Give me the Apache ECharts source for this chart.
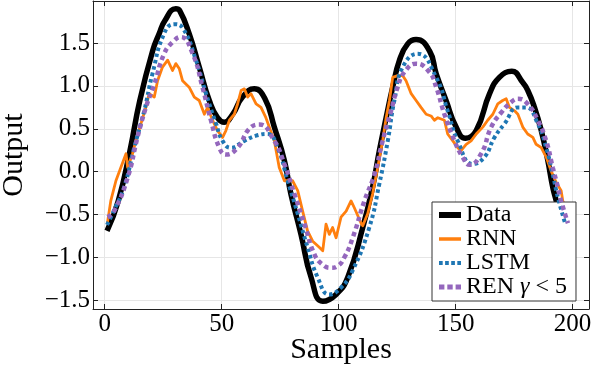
<!DOCTYPE html>
<html><head><meta charset="utf-8">
<script src="https://cdn.jsdelivr.net/npm/echarts@6/dist/echarts.min.js"></script>
<style>html,body{margin:0;padding:0;background:#fff}#c{width:592px;height:368px}</style>
</head><body><div id="c"></div>
<script>
// ---- data ----
const seriesNames = ['Data', 'RNN', 'LSTM', 'REN γ < 5'];
const xTicks = [0, 50, 100, 150, 200];
const yTicks = [-1.5, -1.0, -0.5, 0.0, 0.5, 1.0, 1.5];

const dataX = [1, 5.8, 10.8, 15, 20.5, 23.3, 25.7, 30.4, 32, 36.1, 40.4, 44.7, 48.2, 51.1, 54.7, 58.9, 63.9, 68.5, 72.5, 76.8, 79.6, 83.9, 88.2, 93.2, 98.9, 103.9, 110.3, 114.5, 117.4, 120.3, 123.1, 126, 129.5, 133.1, 138.8, 141.7, 145.9, 150.2, 154.2, 158.8, 164.5, 168.7, 174, 178.7, 180.8, 183.7, 186.6, 189.4, 191.5, 193, 195.5, 198];
const dataY = [-0.69, -0.34, 0.245, 0.83, 1.41, 1.61, 1.76, 1.90, 1.88, 1.61, 1.22, 0.83, 0.63, 0.576, 0.67, 0.87, 0.966, 0.85, 0.52, 0.13, -0.26, -0.73, -1.23, -1.51, -1.43, -1.23, -0.65, -0.18, 0.245, 0.63, 0.985, 1.30, 1.49, 1.54, 1.41, 1.14, 0.83, 0.52, 0.39, 0.48, 0.91, 1.10, 1.17, 1.04, 0.95, 0.75, 0.48, 0.13, -0.18, -0.34, -0.62, -0.85];

const rnnX = [1.2, 2.6, 4.8, 6.9, 9.1, 9.8, 11.9, 13.3, 15.5, 17.6, 19, 21.2, 22.6, 24.7, 26.9, 29, 30.4, 31.9, 33.3, 36.1, 38.3, 40.4, 42.6, 44, 46.1, 48.2, 50.4, 51.8, 53.3, 55.4, 56.8, 58.3, 59.7, 61.1, 62.5, 64.7, 66.8, 68.9, 72.5, 74.6, 76.8, 80.3, 82.5, 84.6, 86.7, 88.9, 91.7, 93.2, 94.6, 96, 97.4, 98.9, 101, 103.2, 105.3, 106.7, 109.6, 110.3, 112.4, 114.5, 116.7, 118.8, 120.3, 121.7, 123.1, 125.2, 127.4, 128.8, 131, 133.1, 135.2, 137.4, 139.5, 140.9, 142.4, 145.2, 146.6, 148.8, 150.9, 152.3, 154.5, 156.6, 158.8, 161.6, 163.7, 165.9, 168, 170.1, 171.6, 173, 175.2, 176.6, 178.7, 180.8, 183, 184.4, 186.6, 188.7, 190.8, 193, 195.1, 195.8, 198];
const rnnY = [-0.59, -0.34, -0.105, 0.05, 0.21, 0.05, 0.21, 0.36, 0.56, 0.75, 0.91, 0.87, 1.06, 1.22, 1.30, 1.18, 1.26, 1.20, 1.06, 0.985, 0.87, 0.83, 0.67, 0.75, 0.60, 0.48, 0.40, 0.48, 0.60, 0.67, 0.79, 0.946, 0.966, 0.87, 0.91, 0.79, 0.75, 0.63, 0.36, 0.05, -0.105, -0.105, -0.22, -0.46, -0.69, -0.81, -0.88, -0.92, -0.61, -0.73, -0.65, -0.77, -0.53, -0.46, -0.34, -0.42, -0.60, -0.63, -0.49, -0.26, 0.05, 0.36, 0.63, 0.83, 1.10, 1.12, 1.12, 1.06, 0.91, 0.83, 0.75, 0.67, 0.65, 0.60, 0.63, 0.60, 0.44, 0.36, 0.28, 0.245, 0.32, 0.36, 0.44, 0.52, 0.60, 0.67, 0.79, 0.83, 0.85, 0.75, 0.71, 0.67, 0.52, 0.44, 0.40, 0.32, 0.28, 0.17, 0.01, -0.125, -0.22, -0.34, -0.5];

const lstmX = [1, 4, 8.3, 12.6, 16.9, 20.4, 25.4, 29.7, 33.5, 39, 43.3, 47.6, 50.4, 54, 59.7, 64.7, 69.6, 73.9, 78.2, 82.5, 86.7, 91, 96, 101, 106, 113.1, 117.4, 121, 123.8, 127.4, 133.8, 141.7, 146.6, 150.9, 157.3, 162.3, 166.6, 170.9, 176.6, 180, 185.1, 188.7, 191.5, 193.7, 197];
const lstmY = [-0.62, -0.45, -0.18, 0.28, 0.71, 1.14, 1.61, 1.72, 1.67, 1.30, 0.91, 0.56, 0.36, 0.28, 0.36, 0.42, 0.44, 0.28, -0.105, -0.49, -0.88, -1.23, -1.43, -1.35, -1.15, -0.65, -0.14, 0.36, 0.83, 1.22, 1.375, 1.10, 0.71, 0.36, 0.09, 0.17, 0.40, 0.56, 0.75, 0.75, 0.56, 0.28, -0.03, -0.30, -0.62];

const renX = [1.2, 4, 9.8, 14, 17.6, 21.2, 25.4, 29, 32.5, 37.6, 41.8, 45.4, 49, 51.8, 56.8, 61.8, 66.1, 72.5, 76.8, 81.1, 85.4, 89.6, 93, 96.7, 99.5, 102.4, 106, 111, 115.3, 118.8, 122.4, 125.2, 128.1, 133.1, 138.8, 141.7, 145.2, 149.5, 153, 155.9, 160.9, 165.2, 169.5, 173.7, 176.6, 180.8, 185.1, 188.7, 191.5, 193.7, 195.1, 198];
const renY = [-0.53, -0.46, -0.07, 0.40, 0.75, 1.02, 1.375, 1.51, 1.57, 1.375, 0.985, 0.60, 0.28, 0.20, 0.28, 0.50, 0.55, 0.36, 0.09, -0.26, -0.61, -0.96, -1.08, -1.12, -1.10, -1.0, -0.77, -0.34, -0.03, 0.36, 0.71, 0.985, 1.16, 1.26, 1.16, 0.985, 0.67, 0.36, 0.17, 0.08, 0.21, 0.52, 0.69, 0.81, 0.85, 0.79, 0.60, 0.36, 0.05, -0.18, -0.34, -0.6];

// ---- build ----
const pairs = (xs, ys) => xs.map((x, i) => [x, ys[i]]);
const FONT = 'Liberation Serif';
const fmtY = v => (v < 0 ? '\u2212' : '') + Math.abs(v).toFixed(1);

const chart = echarts.init(document.getElementById('c'), null, {renderer: 'canvas'});
const axisLine = {show: true, onZero: false, lineStyle: {color: '#222', width: 1}};
const tickInside = (vals) => ({show: true, inside: true, length: 5, customValues: vals, lineStyle: {color: '#222', width: 1}});

chart.setOption({
  animation: false,
  backgroundColor: '#fff',
  grid: {left: 93, right: 3, top: 1, bottom: 59, containLabel: false, outerBoundsMode: 'none'},
  xAxis: [
    {type: 'value', min: -5, max: 207, position: 'bottom',
     axisLine, axisTick: tickInside(xTicks),
     axisLabel: {customValues: xTicks, fontFamily: FONT, fontSize: 25, color: '#000', margin: 3},
     splitLine: {show: true, lineStyle: {color: '#e6e6e6', width: 1}},
     name: 'Samples', nameLocation: 'middle', nameGap: 26, nameMoveOverlap: false,
     nameTextStyle: {fontFamily: FONT, fontSize: 30, color: '#000', verticalAlign: 'top'}},
    {type: 'value', min: -5, max: 207, position: 'top',
     axisLine, axisTick: tickInside(xTicks), axisLabel: {show: false}, splitLine: {show: false}}
  ],
  yAxis: [
    {type: 'value', min: -1.6, max: 1.99, position: 'left',
     axisLine, axisTick: tickInside(yTicks),
     axisLabel: {customValues: yTicks, formatter: fmtY, fontFamily: FONT, fontSize: 25, color: '#000', margin: 3},
     splitLine: {show: true, lineStyle: {color: '#e6e6e6', width: 1}},
     name: 'Output', nameLocation: 'middle', nameGap: 64,
     nameTextStyle: {fontFamily: FONT, fontSize: 30, color: '#000'}},
    {type: 'value', min: -1.6, max: 1.99, position: 'right',
     axisLine, axisTick: tickInside(yTicks), axisLabel: {show: false}, splitLine: {show: false}}
  ],
  legend: {
    orient: 'vertical', left: 432, top: 202,
    backgroundColor: '#fff', borderColor: '#333', borderWidth: 1, borderRadius: 0,
    padding: [1, 9, 2, 7], itemGap: 0, itemWidth: 22, itemHeight: 23,
    itemStyle: {borderWidth: 0},
    textStyle: {fontFamily: FONT, fontSize: 24, lineHeight: 23, color: '#000',
      rich: {g: {fontFamily: FONT, fontSize: 24, fontStyle: 'italic', color: '#000'},
             n: {fontFamily: FONT, fontSize: 24, color: '#000'}}},
    formatter: name => name.indexOf('γ') >= 0 ? '{n|REN }{g|γ}{n| < 5}' : name,
    data: [
      {name: seriesNames[0], icon: 'path://M0,0H22V6H0Z'},
      {name: seriesNames[1], icon: 'path://M0,0H22V3.5H0Z'},
      {name: seriesNames[2], icon: 'path://M0,0h3.5v3.8h-3.5z M5.8,0h3.5v3.8h-3.5z M11.6,0h3.5v3.8h-3.5z M17.4,0h3.5v3.8h-3.5z'},
      {name: seriesNames[3], icon: 'path://M0,0h5v4.6h-5z M7.7,0h5v4.6h-5z M15.4,0h5v4.6h-5z'}
    ]
  },
  series: [
    {name: seriesNames[0], type: 'line', data: pairs(dataX, dataY), smooth: 0.5, symbol: 'none',
     color: '#000', lineStyle: {color: '#000', width: 5.5}, z: 2},
    {name: seriesNames[1], type: 'line', data: pairs(rnnX, rnnY), smooth: false, symbol: 'none',
     color: '#ff7f0e', lineStyle: {color: '#ff7f0e', width: 2.8, join: 'round'}, z: 3},
    {name: seriesNames[2], type: 'line', data: pairs(lstmX, lstmY), smooth: 0.5, symbol: 'none',
     color: '#1f77b4', lineStyle: {color: '#1f77b4', width: 4, type: [3.5, 3], cap: 'butt'}, z: 4},
    {name: seriesNames[3], type: 'line', data: pairs(renX, renY), smooth: 0.5, symbol: 'none',
     color: '#9467bd', lineStyle: {color: '#9467bd', width: 4.5, type: [4.5, 3.5], cap: 'butt'}, z: 5}
  ]
});
</script></body></html>
